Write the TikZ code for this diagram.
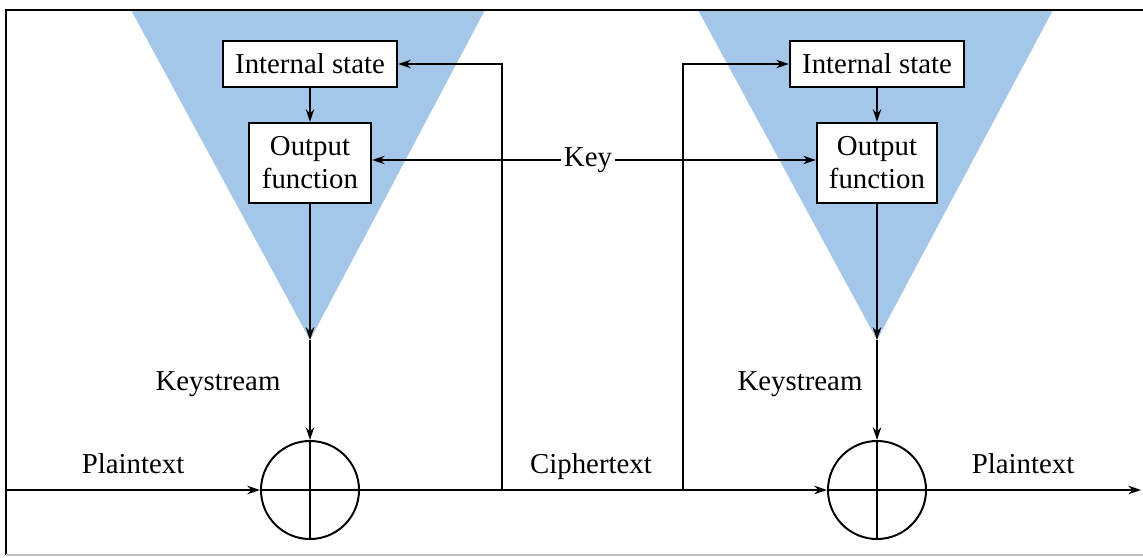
\documentclass[tikz,border=0pt]{standalone}
\usepackage{fontspec}
\setmainfont{Liberation Serif}
\usetikzlibrary{arrows.meta}
\definecolor{coneblue}{RGB}{164,199,233}
\definecolor{framegray}{RGB}{190,190,190}
\tikzset{
  lbl/.style={font=\fontsize{20.5}{23.5}\selectfont, inner sep=2pt},
  blockbox/.style={draw, line width=1.6pt, fill=white, align=center,
    font=\fontsize{20.5}{23.5}\selectfont, inner sep=0pt},
  xorc/.style={draw, line width=1.4pt, circle, minimum size=2.45cm, inner sep=0pt},
  arr/.style={line width=1.3pt, -{Stealth[length=9pt,width=6pt]}},
  ln/.style={line width=1.3pt}
}
\begin{document}
\begin{tikzpicture}[x=0.025cm,y=-0.025cm]
\useasboundingbox (0,0) rectangle (1143,558);

% shaded cones behind the generators
\fill[coneblue] (131,10) -- (485,10) -- (310,340) -- cycle;
\fill[coneblue] (698,10) -- (1053,10) -- (877,340) -- cycle;

% frame
\draw[line width=1.6pt] (6,555) -- (6,10) -- (1143,10);
\draw[framegray, line width=1pt] (6,555) -- (1143,555);

% blocks of the two generators
\node[blockbox, minimum width=4.35cm, minimum height=1.15cm] (is1) at (310,64) {Internal state};
\node[blockbox, minimum width=3.05cm, minimum height=2.0cm] (of1) at (310,163) {Output\\function};
\node[blockbox, minimum width=4.35cm, minimum height=1.15cm] (is2) at (877,64) {Internal state};
\node[blockbox, minimum width=3.0cm, minimum height=2.0cm] (of2) at (877,163) {Output\\function};

% XOR combiners
\node[xorc] (x1) at (310,490) {};
\node[xorc] (x2) at (877,490) {};
\draw[ln] (x1.north) -- (x1.south) (x1.west) -- (x1.east);
\draw[ln] (x2.north) -- (x2.south) (x2.west) -- (x2.east);

% cone apexes, taps and line ends
\coordinate (ap1) at (310,340);
\coordinate (ap2) at (877,340);
\coordinate (in) at (6,490);
\coordinate (out) at (1141,490);
\coordinate (tap1) at (502,490);
\coordinate (tap2) at (683,490);

% labels
\node[lbl] (key) at (588,160) {Key};
\node[lbl, anchor=base] (ks1) at (218,390) {Keystream};
\node[lbl, anchor=base] (ks2) at (800,390) {Keystream};
\node[lbl, anchor=base] (pt1) at (133,473) {Plaintext};
\node[lbl, anchor=base] (ct) at (591,473) {Ciphertext};
\node[lbl, anchor=base] (pt2) at (1023,473) {Plaintext};

% generator internals
\draw[arr] (is1) -- (of1);
\draw[arr] (is2) -- (of2);
\draw[arr] (of1) -- (ap1);
\draw[arr] (ap1) -- (x1.north);
\draw[arr] (of2) -- (ap2);
\draw[arr] (ap2) -- (x2.north);

% key distribution
\draw[arr] (key.west) -- (of1.east |- key.west);
\draw[arr] (key.east) -- (of2.west |- key.east);

% data path
\draw[arr] (in) -- (x1.west);
\draw[arr] (x1.east) -- (x2.west);
\draw[arr] (x2.east) -- (out);

% state feedback from the ciphertext
\draw[arr] (tap1) |- (is1.east);
\draw[arr] (tap2) |- (is2.west);
\end{tikzpicture}
\end{document}
